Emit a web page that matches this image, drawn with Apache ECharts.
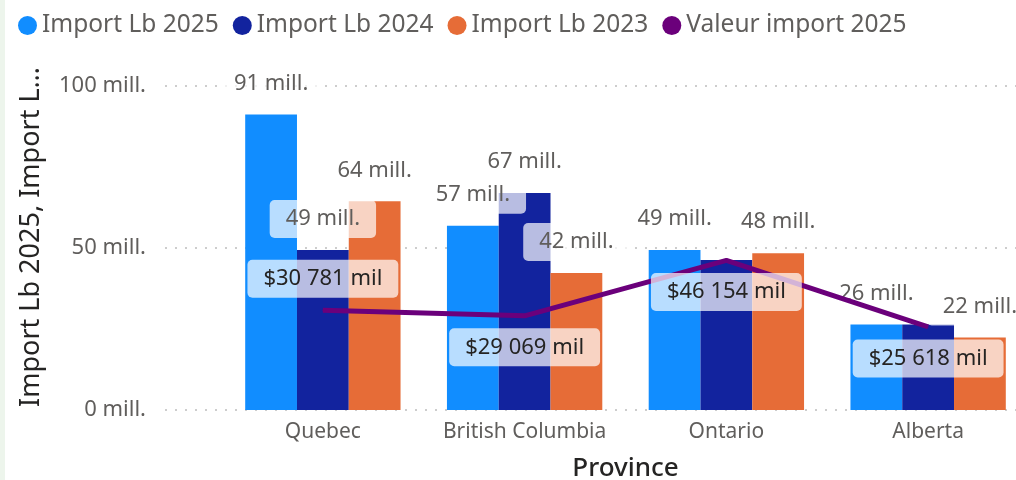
<!DOCTYPE html>
<html>
<head>
<meta charset="utf-8">
<script src="https://cdn.jsdelivr.net/npm/echarts@6/dist/echarts.min.js"></script>
<style>
  html, body { margin: 0; padding: 0; background: #fff; }
  #chart { width: 1016px; height: 480px; }
  #edge { position: absolute; left: 0; top: 0; width: 5px; height: 480px; background: #EDF5EC; }
</style>
</head>
<body>
<div id="chart"></div>
<div id="edge"></div>
<script>
// ---------------- data ----------------
const provinces = ['Quebec', 'British Columbia', 'Ontario', 'Alberta'];
const importLb2025 = [91.2, 56.9, 49.4, 26.4];   // millions de lb
const importLb2024 = [49.4, 67.0, 46.3, 26.4];
const importLb2023 = [64.4, 42.3, 48.4, 22.4];
const valeurImport2025 = [30781, 29069, 46154, 25618]; // $ mil

const font = 'Noto Sans';
const grey = '#605E5C';

function lbLabel(p) {
  return Math.round(p.value) + ' mill.';
}
function moneyLabel(p) {
  return '$' + String(p.value).replace(/\B(?=(\d{3})+(?!\d))/g, ' ') + ' mil';
}

// style commun des étiquettes (fond blanc transparent, comme Power BI)
const boxLabel = {
  show: true,
  position: 'top',
  distance: 12,
  fontFamily: font,
  fontSize: 22,
  color: grey,
  backgroundColor: 'rgba(255,255,255,0.7)',
  borderRadius: 5,
  padding: [8, 16, 8, 16]
};

function barSeries(name, values, hidden) {
  return {
    name: name,
    type: 'bar',
    xAxisIndex: 0,
    yAxisIndex: 0,
    barGap: '0%',
    barCategoryGap: '23%',
    label: Object.assign({}, boxLabel, { formatter: lbLabel }),
    data: values.map((v, i) => hidden.includes(i) ? { value: v, label: { show: false } } : v)
  };
}

let myChart = echarts.init(document.querySelector('#chart'));

let option = {
  animation: false,
  color: ['#118DFF', '#12239E', '#E66C37', '#6B007B'],
  legend: {
    left: 13,
    top: 8,
    icon: 'circle',
    itemWidth: 19,
    itemHeight: 19,
    itemGap: 14,
    textStyle: { fontFamily: font, fontSize: 24.5, color: grey }
  },
  grid: [
    // barres
    { left: 222, right: -13, top: 86, bottom: 70, outerBoundsMode: 'none', containLabel: false },
    // lignes de grille + axe Y
    { left: 165, right: 0, top: 86, bottom: 70, outerBoundsMode: 'none', containLabel: false }
  ],
  xAxis: [
    {
      type: 'category',
      gridIndex: 0,
      data: provinces,
      axisLine: { show: false },
      axisTick: { show: false },
      axisLabel: { fontFamily: font, fontSize: 21, color: grey, margin: 12, interval: 0 },
      name: 'Province',
      nameLocation: 'middle',
      nameGap: 46,
      nameTextStyle: { fontFamily: font, fontSize: 26, fontWeight: 500, color: '#252423' }
    },
    { type: 'value', gridIndex: 1, show: false }
  ],
  yAxis: [
    { type: 'value', gridIndex: 0, min: 0, max: 100, show: false },
    { type: 'value', gridIndex: 0, min: 0, max: 100000, show: false },
    {
      type: 'value',
      gridIndex: 1,
      min: 0,
      max: 100,
      interval: 50,
      axisLine: { show: false },
      axisTick: { show: false },
      axisLabel: {
        fontFamily: font, fontSize: 22, color: grey, margin: 19,
        formatter: v => v + ' mill.'
      },
      splitLine: { lineStyle: { color: '#BDBDBD', width: 1.5, type: [2, 8] } },
      name: 'Import Lb 2025, Import L…',
      nameLocation: 'middle',
      nameRotate: 90,
      nameGap: 120,
      nameTextStyle: { fontFamily: font, fontSize: 27, color: '#252423', padding: [0, 0, 0, 22] }
    }
  ],
  series: [
    barSeries('Import Lb 2025', importLb2025, []),
    barSeries('Import Lb 2024', importLb2024, [2, 3]),
    barSeries('Import Lb 2023', importLb2023, []),
    {
      name: 'Valeur import 2025',
      type: 'line',
      xAxisIndex: 0,
      yAxisIndex: 1,
      symbol: 'circle',
      symbolSize: 1,
      lineStyle: { width: 5, color: '#6B007B' },
      label: Object.assign({}, boxLabel, { color: '#252423', formatter: moneyLabel }),
      data: valeurImport2025.map((v, i) => i === 0 ? v : { value: v, label: { position: 'bottom' } })
    }
  ]
};

myChart.setOption(option);
</script>
</body>
</html>
